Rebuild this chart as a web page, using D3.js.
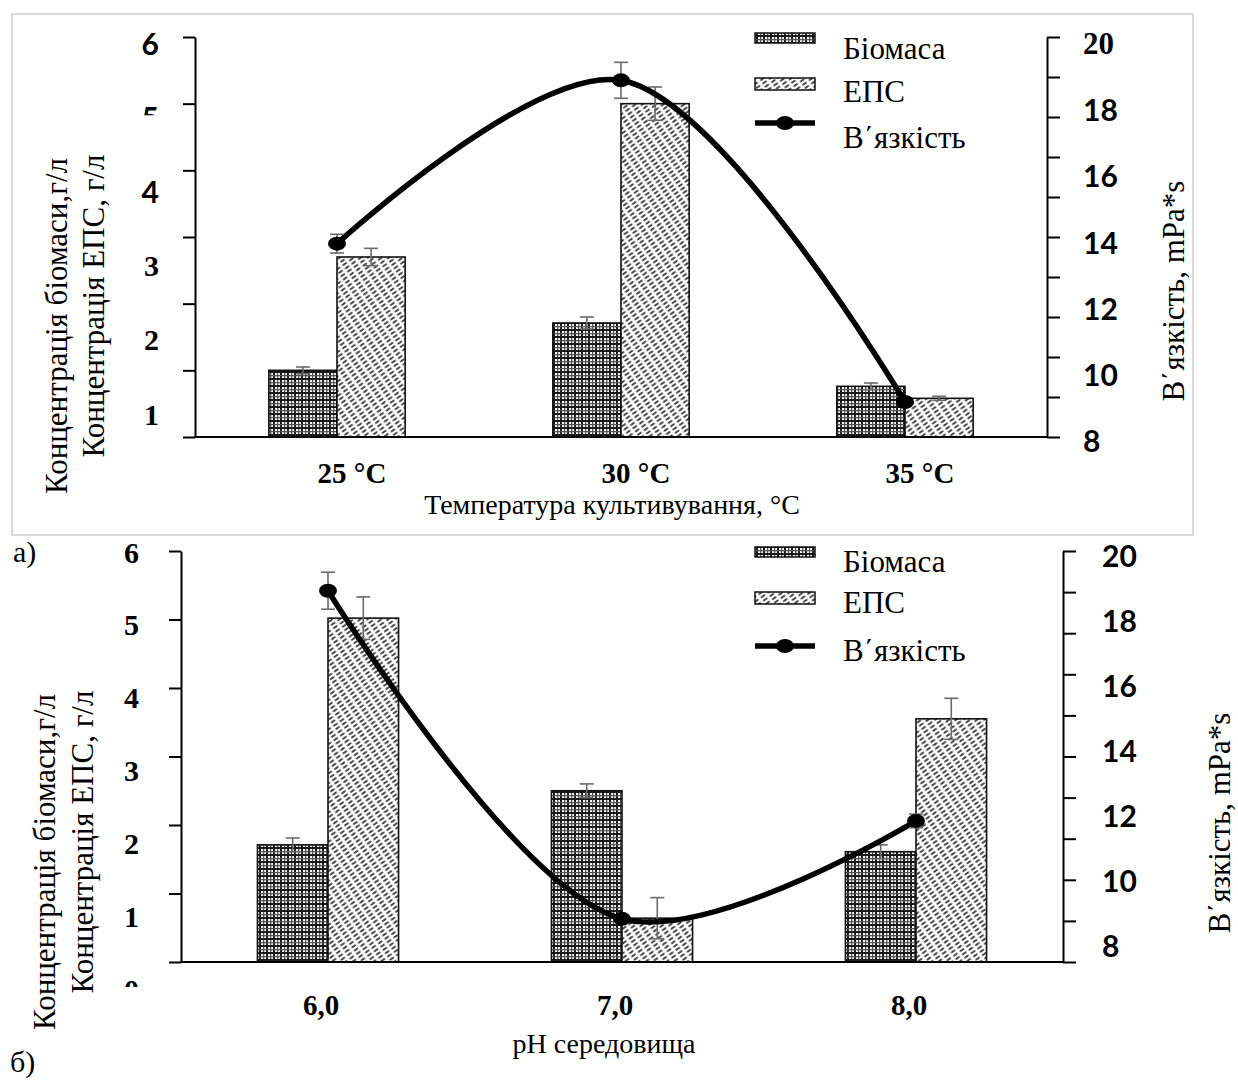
<!DOCTYPE html>
<html><head><meta charset="utf-8">
<script src="https://cdn.jsdelivr.net/npm/d3@7"></script>
<style>
html,body{margin:0;padding:0;background:#fff;}
svg{display:block;}
</style>
</head><body>
<svg id="c" width="1238" height="1081"></svg>
<script>
// ---------- data ----------
const tempCats = ["25 °C", "30 °C", "35 °C"];
const tempBiomass = [1.0, 1.71, 0.76];
const tempBiomassErr = [0.05, 0.09, 0.05];
const tempEps = [2.7, 5.0, 0.58];
const tempEpsErr = [0.13, 0.25, 0.03];
const tempVisc = [13.8, 18.7, 9.05];
const tempViscErr = [0.28, 0.54, 0.1];

const phCats = ["6,0", "7,0", "8,0"];
const phBiomass = [1.71, 2.5, 1.61];
const phBiomassErr = [0.1, 0.1, 0.1];
const phEps = [5.02, 0.64, 3.55];
const phEpsErr = [0.31, 0.3, 0.3];
const phVisc = [18.84, 9.26, 12.12];
const phViscErr = [0.54, 0.1, 0.2];

const leftTicks = [0, 1, 2, 3, 4, 5, 6];
const topLeftLabels = [1, 2, 3, 4, 5, 6];
const bottomLeftLabels = [0, 1, 2, 3, 4, 5, 6];
const rightLabels = [8, 10, 12, 14, 16, 18, 20];
const legendNames = ["Біомаса", "ЕПС", "В΄язкість"];
const yTitle1 = "Концентрація біомаси,г/л";
const yTitle2 = "Концентрація ЕПС, г/л";
const yRightTitle = "В΄язкість, mPa*s";
const topXTitle = "Температура культивування, °C";
const bottomXTitle = "рН середовища";

// ---------- drawing ----------
const svg = d3.select("#c");
const SERIF = "'Liberation Serif','Times New Roman',serif";
const SANS = "Lato,'Liberation Sans',sans-serif";
const defs = svg.append("defs");

// biomass plaid pattern
const pb = defs.append("pattern").attr("id", "pBio").attr("patternUnits", "userSpaceOnUse")
  .attr("width", 7).attr("height", 7);
pb.append("rect").attr("width", 7).attr("height", 7).attr("fill", "#fff");
pb.append("rect").attr("x", 0).attr("width", 2).attr("height", 7).attr("fill", "#1a1a1a");
pb.append("rect").attr("x", 4).attr("width", 1.3).attr("height", 7).attr("fill", "#555");
pb.append("rect").attr("y", 0).attr("height", 2).attr("width", 7).attr("fill", "#1a1a1a");
pb.append("rect").attr("y", 4).attr("height", 1.3).attr("width", 7).attr("fill", "#555");

// EPS dashed diagonal pattern
const pe = defs.append("pattern").attr("id", "pEps").attr("patternUnits", "userSpaceOnUse")
  .attr("width", 8).attr("height", 4).attr("patternTransform", "rotate(-35)");
pe.append("rect").attr("width", 8).attr("height", 4).attr("fill", "#fff");
pe.append("line").attr("x1", 0.5).attr("x2", 5.5).attr("y1", 2).attr("y2", 2)
  .attr("stroke", "#2a2a2a").attr("stroke-width", 1.7);

// frame of top panel
svg.append("rect").attr("x", 12).attr("y", 14).attr("width", 1181).attr("height", 521)
  .attr("fill", "none").attr("stroke", "#d9d9d9").attr("stroke-width", 2);

function drawPanel(o) {
  const g = svg.append("g");
  const x = d3.scaleBand().domain(o.cats).range([o.x0, o.x1]).paddingInner(0.52).paddingOuter(0.26);
  const yL = d3.scaleLinear().domain([0, 6]).range([o.y1, o.y0]);
  const yR = d3.scaleLinear().domain([8, 20]).range([o.y1, o.y0]);
  const bw = x.bandwidth() / 2;

  const rows = o.cats.map((c, i) => ({c, b: o.bio[i], be: o.bioErr[i], e: o.eps[i], ee: o.epsErr[i], v: o.visc[i], ve: o.viscErr[i]}));
  g.selectAll(".bb").data(rows).join("rect")
    .attr("x", d => x(d.c)).attr("width", bw)
    .attr("y", d => yL(d.b)).attr("height", d => yL(0) - yL(d.b))
    .attr("fill", "url(#pBio)").attr("stroke", "#111").attr("stroke-width", 1.6);
  g.selectAll(".be").data(rows).join("rect")
    .attr("x", d => x(d.c) + bw).attr("width", bw)
    .attr("y", d => yL(d.e)).attr("height", d => yL(0) - yL(d.e))
    .attr("fill", "url(#pEps)").attr("stroke", "#111").attr("stroke-width", 1.6);

  function errBar(cx, yTop, yBot) {
    g.append("line").attr("x1", cx).attr("x2", cx).attr("y1", yTop).attr("y2", yBot)
      .attr("stroke", "#6a6a6a").attr("stroke-width", 1.6);
    g.append("line").attr("x1", cx - 7).attr("x2", cx + 7).attr("y1", yTop).attr("y2", yTop)
      .attr("stroke", "#6a6a6a").attr("stroke-width", 1.6);
    g.append("line").attr("x1", cx - 7).attr("x2", cx + 7).attr("y1", yBot).attr("y2", yBot)
      .attr("stroke", "#6a6a6a").attr("stroke-width", 1.6);
  }
  rows.forEach(d => {
    errBar(x(d.c) + bw / 2, yL(d.b + d.be), yL(d.b - d.be));
    errBar(x(d.c) + bw * 1.5, yL(d.e + d.ee), yL(d.e - d.ee));
  });

  const axL = g.append("g").attr("transform", `translate(${o.x0},0)`)
    .call(d3.axisLeft(yL).tickValues(leftTicks).tickSize(12).tickSizeOuter(0).tickFormat(""));
  const minor = d3.range(0, 11).map(i => 8 + i * 1.2);
  const axR = g.append("g").attr("transform", `translate(${o.x1},0)`)
    .call(d3.axisRight(yR).tickValues(minor).tickSize(13).tickSizeOuter(0).tickFormat(""));
  [axL, axR].forEach(a => {
    a.selectAll("path,line").attr("stroke", "#000").attr("stroke-width", 2);
  });
  g.append("line").attr("x1", o.x0).attr("x2", o.x1).attr("y1", o.y1).attr("y2", o.y1)
    .attr("stroke", "#000").attr("stroke-width", 2);

  const line = d3.line().x(d => x(d.c) + bw).y(d => yR(d.v)).curve(d3.curveCatmullRom.alpha(0.5));
  g.append("path").datum(rows).attr("d", line).attr("fill", "none")
    .attr("stroke", "#000").attr("stroke-width", 5.5);
  rows.forEach(d => {
    const cx = x(d.c) + bw;
    errBar(cx, yR(d.v + d.ve), yR(d.v - d.ve));
  });
  g.selectAll(".dot").data(rows).join("ellipse")
    .attr("cx", d => x(d.c) + bw).attr("cy", d => yR(d.v))
    .attr("rx", 9).attr("ry", 7).attr("fill", "#000");

  const yLab = d3.scaleLinear().domain(o.leftLabDom).range(o.leftLabRange);
  o.leftLabels.forEach(v => {
    const t = g.append("text").attr("x", o.x0 - o.leftLabGap).attr("y", yLab(v))
      .attr("text-anchor", "end").attr("dominant-baseline", "central")
      .attr("font-family", o.leftSans(v) ? SANS : SERIF).attr("font-weight", "bold")
      .attr("font-size", 30).text(v);
    if (v === o.cutLabel) {
      const id = "clip" + o.id;
      defs.append("clipPath").attr("id", id).append("rect")
        .attr("x", 0).attr("width", 300).attr("y", yLab(v) - 40).attr("height", 40 - 10 + 8);
      t.attr("clip-path", `url(#${id})`);
    }
  });
  const yRLab = d3.scaleLinear().domain([8, 20]).range(o.rightLabRange);
  rightLabels.forEach(v => {
    g.append("text").attr("x", o.x1 + o.rightLabGap).attr("y", yRLab(v))
      .attr("dominant-baseline", "central")
      .attr("font-family", o.rightSerif(v) ? SERIF : SANS).attr("font-weight", "bold")
      .attr("font-size", o.rightSerif(v) ? 31 : 30).text(v);
  });
  g.selectAll(".xl").data(o.cats).join("text")
    .attr("x", d => x(d) + bw + o.xLabDx).attr("y", o.xLabY)
    .attr("text-anchor", "middle").attr("font-family", SERIF).attr("font-weight", "bold")
    .attr("font-size", 29).text(d => d);
  g.append("text").attr("x", o.xTitleX).attr("y", o.xTitleY).attr("text-anchor", "middle")
    .attr("font-family", SERIF).attr("font-size", 28).text(o.xTitle);
  g.append("text").attr("transform", `translate(${o.yT1x},${o.yT1y}) rotate(-90)`)
    .attr("text-anchor", "middle").attr("font-family", SERIF).attr("font-size", 31).text(yTitle1);
  g.append("text").attr("transform", `translate(${o.yT2x},${o.yT2y}) rotate(-90)`)
    .attr("text-anchor", "middle").attr("font-family", SERIF).attr("font-size", 31).text(yTitle2);
  g.append("text").attr("transform", `translate(${o.yRTx},${o.yRTy}) rotate(-90)`)
    .attr("text-anchor", "middle").attr("font-family", SERIF).attr("font-size", 31).text(yRightTitle);

  const lx = 755, lw = 60;
  const L = g.append("g");
  L.append("rect").attr("x", lx).attr("y", o.legY[0] - 5).attr("width", lw).attr("height", 10)
    .attr("fill", "url(#pBio)").attr("stroke", "#111").attr("stroke-width", 1.5);
  L.append("rect").attr("x", lx).attr("y", o.legY[1] - 6).attr("width", lw).attr("height", 12)
    .attr("fill", "url(#pEps)").attr("stroke", "#111").attr("stroke-width", 1.5);
  L.append("line").attr("x1", lx).attr("x2", lx + lw).attr("y1", o.legY[2]).attr("y2", o.legY[2])
    .attr("stroke", "#000").attr("stroke-width", 5.5);
  L.append("ellipse").attr("cx", lx + lw / 2).attr("cy", o.legY[2]).attr("rx", 9).attr("ry", 7).attr("fill", "#000");
  legendNames.forEach((n, i) => {
    L.append("text").attr("x", 843).attr("y", o.legTextY[i]).attr("font-family", SERIF)
      .attr("font-size", 31).text(n);
  });
}

drawPanel({
  id: "top", cats: tempCats, bio: tempBiomass, bioErr: tempBiomassErr, eps: tempEps, epsErr: tempEpsErr,
  visc: tempVisc, viscErr: tempViscErr,
  x0: 195, x1: 1047, y0: 37, y1: 437,
  leftLabels: topLeftLabels, leftLabDom: [1, 6], leftLabRange: [414, 43], leftLabGap: 36,
  leftSans: v => v >= 4, cutLabel: 5,
  rightLabRange: [440, 43], rightLabGap: 36, rightSerif: v => v === 20,
  xLabY: 483, xLabDx: 15,
  xTitle: topXTitle, xTitleX: 612, xTitleY: 514,
  yT1x: 67, yT1y: 326, yT2x: 104, yT2y: 306, yRTx: 1184, yRTy: 291,
  legY: [38, 84, 123], legTextY: [59, 102, 148]
});

drawPanel({
  id: "bot", cats: phCats, bio: phBiomass, bioErr: phBiomassErr, eps: phEps, epsErr: phEpsErr,
  visc: phVisc, viscErr: phViscErr,
  x0: 181, x1: 1063, y0: 551, y1: 962,
  leftLabels: bottomLeftLabels, leftLabDom: [0, 6], leftLabRange: [989, 552], leftLabGap: 42,
  leftSans: v => false, cutLabel: 0,
  rightLabRange: [945, 555], rightLabGap: 39, rightSerif: v => false,
  xLabY: 1015, xLabDx: -7,
  xTitle: bottomXTitle, xTitleX: 604, xTitleY: 1053,
  yT1x: 55, yT1y: 862, yT2x: 93, yT2y: 842, yRTx: 1230, yRTy: 823,
  legY: [552, 598, 646], legTextY: [572, 613, 661]
});

svg.append("text").attr("x", 13).attr("y", 562).attr("font-family", SERIF).attr("font-size", 30).text("а)");
svg.append("text").attr("x", 10).attr("y", 1072).attr("font-family", SERIF).attr("font-size", 30).text("б)");
</script>
</body></html>
